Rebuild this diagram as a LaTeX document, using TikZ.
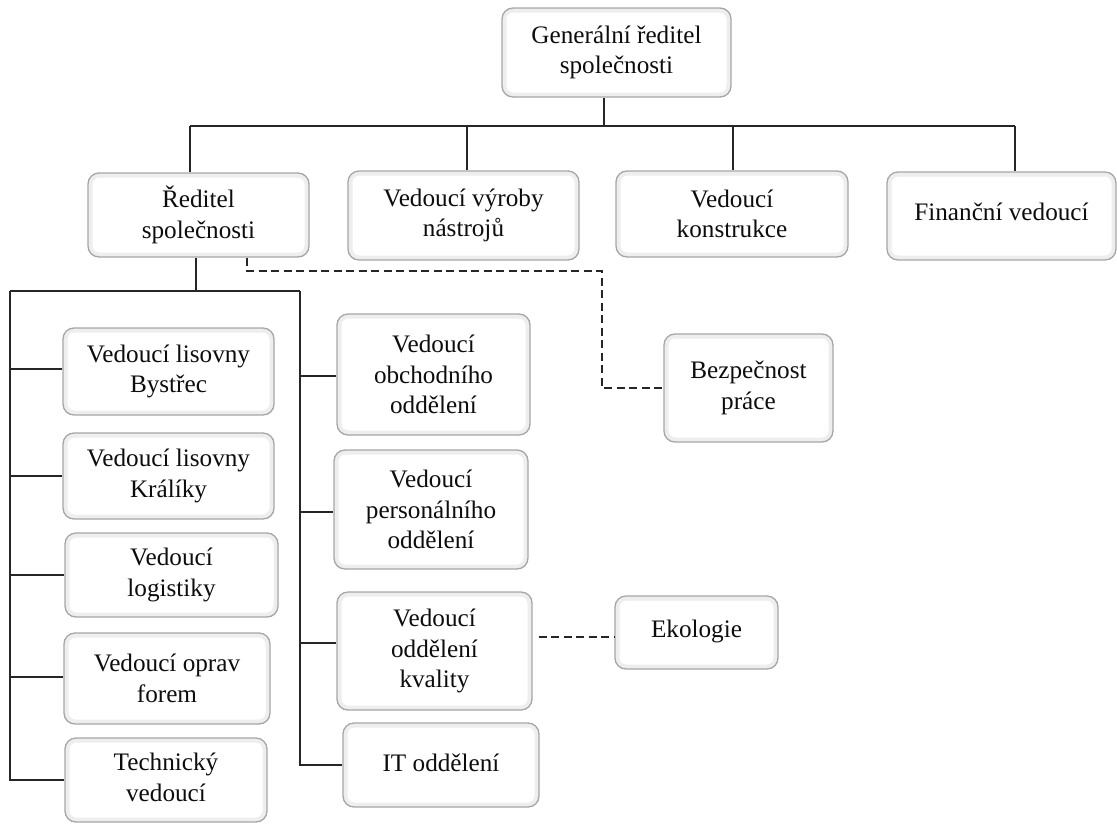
\documentclass[tikz,border=0pt]{standalone}
\usepackage{fontspec}
\setmainfont{Liberation Serif}
\begin{document}
\begin{tikzpicture}[x=1pt,y=-1pt,
  box/.style={draw=gray!70, line width=1.3pt, fill=white, rounded corners=11pt,
    inner sep=0pt, align=center, font=\fontsize{25.2}{30.5}\selectfont, text=black!95,
    path picture={\draw[gray!13,line width=9pt]
      (path picture bounding box.south west) rectangle (path picture bounding box.north east);}},
  conn/.style={draw=black!85, line width=1.4pt},
  dline/.style={conn, dash pattern=on 8pt off 4.5pt}]
\useasboundingbox (0,0) rectangle (1117,823);

% top level
\node[box, minimum width=229pt, minimum height=89pt] (gen) at (616.5,52.5) {Generální ředitel\\společnosti};

% second level
\node[box, minimum width=221pt, minimum height=84pt] (red) at (198.5,215) {Ředitel\\společnosti};
\node[box, minimum width=231pt, minimum height=89pt] (vyr) at (463.5,215.5) {Vedoucí výroby\\nástrojů};
\node[box, minimum width=232pt, minimum height=86pt] (kon) at (732,214) {Vedoucí\\konstrukce};
\node[box, minimum width=229pt, minimum height=88pt] (fin) at (1001.5,216) {\raisebox{8pt}{Finanční vedoucí}};

% left column
\node[box, minimum width=211pt, minimum height=87pt] (bys) at (168.5,371.5) {Vedoucí lisovny\\Bystřec};
\node[box, minimum width=211pt, minimum height=86pt] (kra) at (168.5,476) {Vedoucí lisovny\\Králíky};
\node[box, minimum width=213pt, minimum height=84pt] (log) at (171.5,575) {Vedoucí\\logistiky};
\node[box, minimum width=206pt, minimum height=91pt] (opr) at (167,678.5) {Vedoucí oprav\\forem};
\node[box, minimum width=202pt, minimum height=84pt] (tec) at (166,780) {\raisebox{-8pt}{\begin{tabular}{@{}c@{}}Technický\\vedoucí\end{tabular}}};

% right column
\node[box, minimum width=193pt, minimum height=121pt] (obc) at (433.5,374.5) {Vedoucí\\obchodního\\oddělení};
\node[box, minimum width=194pt, minimum height=119pt] (per) at (431,509.5) {Vedoucí\\personálního\\oddělení};
\node[box, minimum width=195pt, minimum height=118pt] (kva) at (434.5,651) {Vedoucí\\oddělení\\kvality};
\node[box, minimum width=196pt, minimum height=84pt] (it) at (441,765) {\raisebox{5pt}{IT oddělení}};

% staff boxes
\node[box, minimum width=169pt, minimum height=108pt] (bez) at (748.5,388) {\raisebox{6pt}{\begin{tabular}{@{}c@{}}Bezpečnost\\práce\end{tabular}}};
\node[box, minimum width=163pt, minimum height=73pt] (eko) at (696.5,632.5) {\raisebox{7pt}{Ekologie}};

% top bus
\coordinate (busM) at (604,126);
\coordinate (busL) at (190,126);
\coordinate (busR) at (1015,126);
\coordinate (t2) at (467,126);
\coordinate (t3) at (733,126);
\draw[conn] (gen.south -| busM) -- (busM);
\draw[conn] (busL) -- (busR);
\draw[conn] (busL) -- (busL |- red.north);
\draw[conn] (t2) -- (t2 |- vyr.north);
\draw[conn] (t3) -- (t3 |- kon.north);
\draw[conn] (busR) -- (busR |- fin.north);

% sub bus
\coordinate (sM) at (196,291);
\coordinate (sL) at (10,291);
\coordinate (sR) at (300,291);
\draw[conn] (red.south -| sM) -- (sM);
\draw[conn] (sL) -- (sR);
\draw[conn] (sL) |- (tec.west);
\draw[conn] ([yshift=2.5pt]bys.west -| sL) -- ([yshift=2.5pt]bys.west);
\draw[conn] (sL |- kra.west) -- (kra.west);
\draw[conn] (sL |- log.west) -- (log.west);
\draw[conn] ([yshift=1.5pt]opr.west -| sL) -- ([yshift=1.5pt]opr.west);
\draw[conn] (sR) |- (it.west);
\draw[conn] ([yshift=-1.5pt]obc.west -| sR) -- ([yshift=-1.5pt]obc.west);
\draw[conn] ([yshift=-2.5pt]per.west -| sR) -- ([yshift=-2.5pt]per.west);
\draw[conn] ([yshift=8pt]kva.west -| sR) -- ([yshift=8pt]kva.west);

% dashed staff links
\coordinate (d1) at (247,271);
\coordinate (d2) at (602,271);
\draw[dline] (red.south -| d1) -- (d1) -- (d2) |- (bez.west);
\draw[dline, shorten <=6pt] ([yshift=-4.5pt]eko.west -| kva.east) -- ([yshift=-4.5pt]eko.west);
\end{tikzpicture}
\end{document}
